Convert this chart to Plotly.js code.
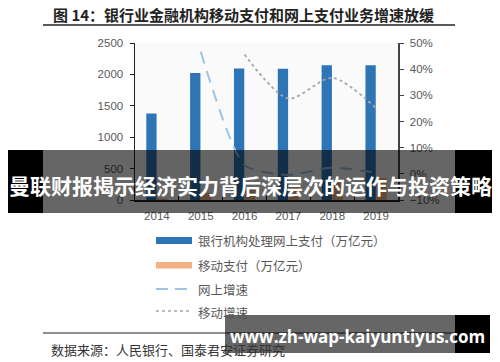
<!DOCTYPE html>
<html>
<head>
<meta charset="utf-8">
<script src="https://cdn.plot.ly/plotly-3.0.1.min.js"></script>
<style>html,body{margin:0;padding:0;background:#fff;}#chart{width:500px;height:362px;}</style>
</head>
<body>
<div id="chart"></div>
<script>
const years = ['2014', '2015', '2016', '2017', '2018', '2019'];
const onlinePay = [1378, 2022, 2092, 2088, 2145, 2145];
const mobilePay = [23, 108, 158, 203, 277, 347];
const onlineGrowth = [null, 46.7, 3.3, -0.4, 2.4, 0.4];
const mobileGrowth = [null, null, 45.6, 28.8, 36.7, 25.1];
const seriesNames = ['银行机构处理网上支付（万亿元）', '移动支付（万亿元）', '网上增速', '移动增速'];
const chartTitle = '图 14：银行业金融机构移动支付和网上支付业务增速放缓';
const sourceText = '数据来源：人民银行、国泰君安证券研究';
const bannerText = '曼联财报揭示经济实力背后深层次的运作与投资策略';
const watermarkText = 'www.zh-wap-kaiyuntiyus.com';

const C_BLUE = '#2E75B6', C_ORANGE = '#F4B183', C_LBLUE = '#9DC3E6', C_GRAY = '#A6A6A6';
const CJK = '"Noto Sans CJK SC", "Noto Sans", sans-serif';
const LAT = '"Liberation Sans", Arial, sans-serif';

// plot area in pixels
const L = 135, R = 398, T = 43, B = 200;
const px = x => (x - L) / (R - L);
const py = y => (B - y) / (B - T);

const traces = [
  {type: 'bar', x: years, y: onlinePay, name: seriesNames[0], marker: {color: C_BLUE}, showlegend: false, hoverinfo: 'skip'},
  {type: 'bar', x: years, y: mobilePay, name: seriesNames[1], marker: {color: C_ORANGE}, showlegend: false, hoverinfo: 'skip'},
  {type: 'scatter', mode: 'lines', x: years, y: onlineGrowth, yaxis: 'y2', name: seriesNames[2],
   line: {color: C_LBLUE, width: 2, dash: '12px,8px', shape: 'spline', smoothing: 0.6}, showlegend: false, connectgaps: false},
  {type: 'scatter', mode: 'lines', x: years, y: mobileGrowth, yaxis: 'y2', name: seriesNames[3],
   line: {color: C_GRAY, width: 1.8, dash: 'dot', shape: 'spline', smoothing: 0.8}, showlegend: false}
];

const shapes = [];
const annotations = [];

// title and rules
annotations.push({xref: 'paper', yref: 'paper', x: px(51), y: py(14), xanchor: 'left', yanchor: 'middle',
  text: '<b>' + chartTitle + '</b>', showarrow: false, font: {family: CJK, size: 15, color: '#222'}});
shapes.push({type: 'line', xref: 'paper', yref: 'paper', x0: px(43), x1: px(455), y0: py(25), y1: py(25), line: {color: '#222', width: 1.5}});
shapes.push({type: 'line', xref: 'paper', yref: 'paper', x0: px(43), x1: px(455), y0: py(333), y1: py(333), line: {color: '#222', width: 1.2}});
annotations.push({xref: 'paper', yref: 'paper', x: px(49), y: py(349), xanchor: 'left', yanchor: 'middle',
  text: sourceText, showarrow: false, font: {family: CJK, size: 13, color: '#333'}});

// custom legend
const legY = [240, 265, 289, 312];
shapes.push({type: 'rect', xref: 'paper', yref: 'paper', x0: px(156), x1: px(192), y0: py(237), y1: py(244), fillcolor: C_BLUE, line: {width: 0}});
shapes.push({type: 'rect', xref: 'paper', yref: 'paper', x0: px(156), x1: px(192), y0: py(262), y1: py(268.5), fillcolor: C_ORANGE, line: {width: 0}});
shapes.push({type: 'line', xref: 'paper', yref: 'paper', x0: px(156), x1: px(192), y0: py(289), y1: py(289), line: {color: C_LBLUE, width: 2, dash: '12px,7px'}});
shapes.push({type: 'line', xref: 'paper', yref: 'paper', x0: px(156), x1: px(192), y0: py(311), y1: py(311), line: {color: C_GRAY, width: 1.5, dash: 'dot'}});
seriesNames.forEach((n, i) => {
  annotations.push({xref: 'paper', yref: 'paper', x: px(196), y: py(legY[i]), xanchor: 'left', yanchor: 'middle',
    text: n, showarrow: false, font: {family: CJK, size: 12.5, color: '#595959'}});
});

// banner overlay
shapes.push({type: 'rect', xref: 'paper', yref: 'paper', layer: 'above', x0: px(8), x1: px(43), y0: py(150), y1: py(213), fillcolor: '#000', line: {width: 0}});
shapes.push({type: 'rect', xref: 'paper', yref: 'paper', layer: 'above', x0: px(455), x1: px(492), y0: py(150), y1: py(213), fillcolor: '#000', line: {width: 0}});
shapes.push({type: 'rect', xref: 'paper', yref: 'paper', layer: 'above', x0: px(43), x1: px(455), y0: py(150), y1: py(213), fillcolor: 'rgba(0,0,0,0.6)', line: {width: 0}});
annotations.push({xref: 'paper', yref: 'paper', x: px(250), y: py(185), xanchor: 'center', yanchor: 'middle',
  text: '<b>' + bannerText + '</b>', showarrow: false, font: {family: CJK, size: 21, color: '#fff'}});

// watermark overlay
shapes.push({type: 'rect', xref: 'paper', yref: 'paper', layer: 'above', x0: px(225), x1: px(455), y0: py(315), y1: py(353), fillcolor: 'rgba(0,0,0,0.6)', line: {width: 0}});
shapes.push({type: 'rect', xref: 'paper', yref: 'paper', layer: 'above', x0: px(455), x1: px(490), y0: py(315), y1: py(353), fillcolor: '#000', line: {width: 0}});
annotations.push({xref: 'paper', yref: 'paper', x: px(357), y: py(336), xanchor: 'center', yanchor: 'middle',
  text: '<b>' + watermarkText + '</b>', showarrow: false, font: {family: '"Open Sans", "DejaVu Sans", sans-serif', size: 17, color: '#fff'}});

const layout = {
  width: 500, height: 362,
  margin: {l: L, r: 500 - R, t: T, b: 362 - B, pad: 0},
  paper_bgcolor: '#fff', plot_bgcolor: '#fafafa',
  showlegend: false,
  barmode: 'group', bargap: 0.5, bargroupgap: 0.06,
  xaxis: {type: 'category', showline: true, linecolor: '#222', linewidth: 1.5, ticks: 'inside', tickson: 'boundaries',
    ticklen: 4, tickcolor: '#222', showgrid: false, zeroline: false, ticklabelstandoff: 5,
    tickfont: {family: LAT, size: 11.5, color: '#595959'}, fixedrange: true},
  yaxis: {range: [0, 2500], dtick: 500, showline: true, linecolor: '#222', linewidth: 1.5, ticks: 'outside', ticklen: 4,
    tickcolor: '#222', showgrid: false, zeroline: false, tickfont: {family: LAT, size: 11.5, color: '#595959'}, ticklabelstandoff: 4},
  yaxis2: {overlaying: 'y', side: 'right', range: [-10, 50], dtick: 10, ticksuffix: '%', showline: true, linecolor: '#444',
    linewidth: 1.5, ticks: 'outside', ticklen: 4, tickcolor: '#444', showgrid: false, zeroline: false,
    tickfont: {family: LAT, size: 11.5, color: '#595959'}, ticklabelstandoff: 4},
  shapes: shapes,
  annotations: annotations
};

Plotly.newPlot('chart', traces, layout, {displayModeBar: false, staticPlot: true});
</script>
</body>
</html>
